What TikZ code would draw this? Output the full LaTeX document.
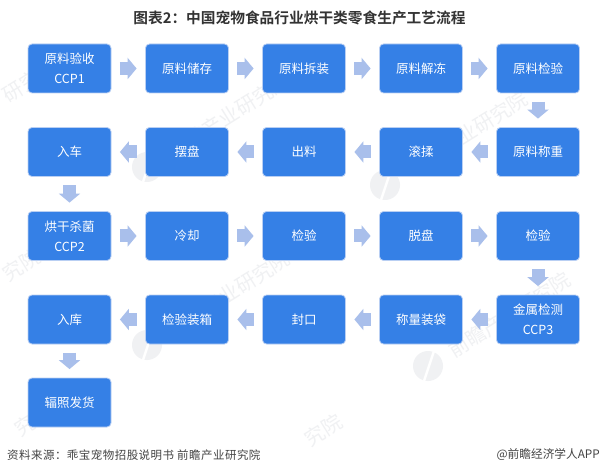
\documentclass[tikz,border=0pt]{standalone}
\usepackage{fontspec}
\setmainfont{Liberation Sans}
\newfontfamily\cjk{Noto Sans CJK SC}
\newfontfamily\cjkb{Noto Sans CJK SC Bold}
\newfontfamily\cjkspaced[LetterSpace=4]{Noto Sans CJK SC}
\usetikzlibrary{arrows.meta}
\definecolor{boxblue}{HTML}{3580E6}
\definecolor{boxedge}{HTML}{B9CFF3}
\definecolor{arrowblue}{HTML}{A9BFEB}
\definecolor{titlegray}{HTML}{333333}
\definecolor{footgray}{HTML}{444444}
\definecolor{markgray}{HTML}{F0F1F3}
\tikzset{
  stepbox/.style={draw=boxedge,line width=.8bp,fill=boxblue,rounded corners=4bp,minimum width=83bp,minimum height=49bp,inner sep=0pt,text=white,align=center,font=\cjk\fontsize{12.5bp}{20bp}\selectfont},
  flow/.style={draw=arrowblue,line width=13bp,shorten <=8.5bp,shorten >=8.5bp,-{Triangle[length=9bp,width=21bp]}},
  wmark/.style={text=markgray,rotate=32,anchor=west,inner sep=0pt,font=\cjk\fontsize{20bp}{20bp}\selectfont},
}
\begin{document}
\begin{tikzpicture}[x=1bp,y=-1bp]
\useasboundingbox (0,0) rectangle (600,474);
\fill[white] (0,0) rectangle (600,474);
% watermarks
\foreach \x/\y/\n in {147/167/a,385/185/b,428/366/c,147/345/d}{
  \fill[markgray] (\x,\y) circle (15bp);
  \draw[white,line width=2.5bp] (\x-4,\y+15) -- (\x+6,\y-15);
  \node[wmark] (w\n) at (\x+22,\y-14) {前瞻产业研究院};
}
\node[wmark] (we) at (4,97) {研究院};
\node[wmark] (wf) at (4,276) {究院};
\node[wmark] (wg) at (16,431) {究院};
\node[wmark] (wh) at (306,441) {究院};
\node[font=\cjkb\fontsize{14.7bp}{16bp}\selectfont,text=titlegray] (title) at (299.5,18) {图表2：中国宠物食品行业烘干类零食生产工艺流程};
% row 1
\node[stepbox] (a1) at (69.5,68.5) {原料验收\\CCP1};
\node[stepbox] (a2) at (187,68.5) {原料储存};
\node[stepbox] (a3) at (304,68.5) {原料拆装};
\node[stepbox] (a4) at (421,68.5) {原料解冻};
\node[stepbox] (a5) at (538,68.5) {原料检验};
% row 2
\node[stepbox] (b5) at (538,152) {原料称重};
\node[stepbox] (b4) at (421,152) {滚揉};
\node[stepbox] (b3) at (304,152) {出料};
\node[stepbox] (b2) at (187,152) {摆盘};
\node[stepbox] (b1) at (69.5,152) {入车};
% row 3
\node[stepbox] (c1) at (69.5,236) {烘干杀菌\\CCP2};
\node[stepbox] (c2) at (187,236) {冷却};
\node[stepbox] (c3) at (304,236) {检验};
\node[stepbox] (c4) at (421,236) {脱盘};
\node[stepbox] (c5) at (538,236) {检验};
% row 4
\node[stepbox] (d5) at (538,319.5) {金属检测\\CCP3};
\node[stepbox] (d4) at (421,319.5) {称量装袋};
\node[stepbox] (d3) at (304,319.5) {封口};
\node[stepbox] (d2) at (187,319.5) {检验装箱};
\node[stepbox] (d1) at (69.5,319.5) {入库};
% row 5
\node[stepbox] (e1) at (69.5,402.5) {辐照发货};
\foreach \p/\q in {a1/a2,a2/a3,a3/a4,a4/a5,a5/b5,b5/b4,b4/b3,b3/b2,b2/b1,b1/c1,c1/c2,c2/c3,c3/c4,c4/c5,c5/d5,d5/d4,d4/d3,d3/d2,d2/d1,d1/e1}
  \draw[flow] (\p) -- (\q);
\node[anchor=west,inner sep=0pt,text=footgray,font=\cjkspaced\fontsize{11.5bp}{13bp}\selectfont] (src) at (7,455) {资料来源：乖宝宠物招股说明书 前瞻产业研究院};
\node[anchor=east,inner sep=0pt,text=footgray,font=\cjk\fontsize{11.7bp}{13bp}\selectfont] (brand) at (600,455) {@前瞻经济学人APP};
\end{tikzpicture}
\end{document}
